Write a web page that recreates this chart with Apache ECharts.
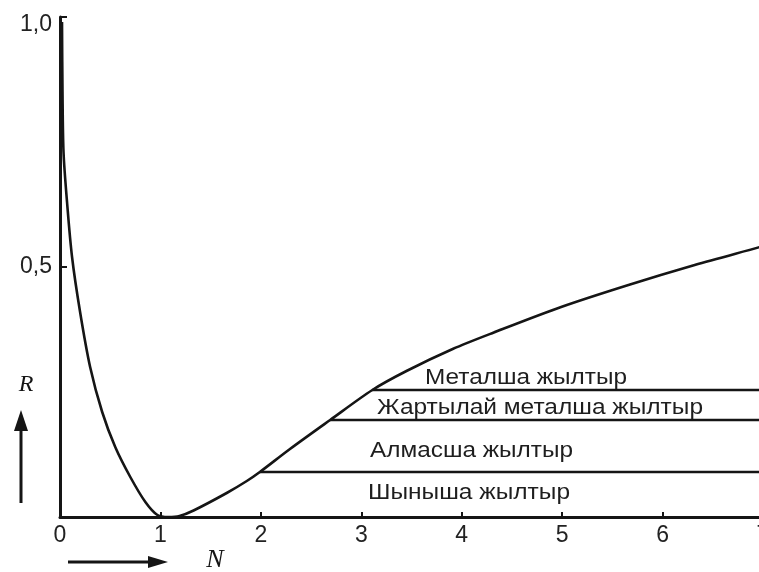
<!DOCTYPE html>
<html><head><meta charset="utf-8">
<script src="https://cdn.jsdelivr.net/npm/echarts@6/dist/echarts.min.js"></script>
<style>html,body{margin:0;padding:0;background:#fff}#c{width:759px;height:572px}</style>
</head><body><div id="c"></div>
<script>
// Reflectance curve R(N)
const curveN = [0.02, 0.025, 0.035, 0.07, 0.12, 0.20, 0.30, 0.42, 0.55, 0.70, 0.85, 0.97, 1.08, 1.19, 1.33, 1.66, 1.86, 1.99, 2.29, 2.69, 3.11, 3.45, 3.91, 4.32, 4.99, 5.66, 6.32, 6.97, 7.0];
const curveR = [0.99, 0.85, 0.73, 0.63, 0.52, 0.41, 0.30, 0.21, 0.14, 0.08, 0.03, 0.004, 0.0, 0.002, 0.013, 0.048, 0.072, 0.09, 0.136, 0.194, 0.254, 0.292, 0.336, 0.369, 0.42, 0.464, 0.504, 0.54, 0.542];
// Luster boundary lines
const boundaryR = [0.254, 0.194, 0.09];
const boundaryStartN = [3.11, 2.69, 1.99];
const boundaryEndN = 7;
// Luster zone names (top to bottom)
const lusterNames = ['Металша жылтыр', 'Жартылай металша жылтыр', 'Алмасша жылтыр', 'Шыныша жылтыр'];
// Axis
const xMin = 0, xMax = 7, xStep = 1;
const yMin = 0, yMax = 1, yStep = 0.5;
const yTickText = { '0.5': '0,5', '1': '1,0' };
const axisNames = ['N', 'R'];

const chart = echarts.init(document.getElementById('c'), null, { renderer: 'canvas' });

const ink = '#151515';
const series = [{
  type: 'line',
  data: curveN.map((n, i) => [n, curveR[i]]),
  symbol: 'none',
  smooth: 0.3,
  lineStyle: { color: ink, width: 2.6 },
  z: 3
}];
boundaryR.forEach((r, i) => {
  series.push({
    type: 'line',
    data: [[boundaryStartN[i], r], [boundaryEndN, r]],
    symbol: 'none',
    lineStyle: { color: ink, width: 2.6 },
    z: 2
  });
});

// label layout (pixel boxes): left, center y, target width
const labelBoxes = [
  [425, 378, 202],
  [377, 408, 326],
  [370, 451, 203],
  [368, 493, 202]
];
const labelFont = '22px "Liberation Sans", Arial, sans-serif';
const ctx = document.createElement('canvas').getContext('2d');
ctx.font = labelFont;

const graphics = lusterNames.map((t, i) => {
  const w = ctx.measureText(t).width;
  const b = labelBoxes[i];
  return {
    type: 'text', x: b[0], y: b[1], scaleX: b[2] / w, z: 10,
    style: { text: t, font: labelFont, fill: '#1e1e1e', align: 'left', verticalAlign: 'middle' }
  };
});
// axis names and arrows
graphics.push(
  { type: 'text', x: 26, y: 385, z: 10, style: { text: axisNames[1], font: 'italic 24px "Liberation Serif", serif', fill: ink, align: 'center', verticalAlign: 'middle' } },
  { type: 'text', x: 215, y: 560, z: 10, style: { text: axisNames[0], font: 'italic 26px "Liberation Serif", serif', fill: ink, align: 'center', verticalAlign: 'middle' } },
  { type: 'line', z: 10, shape: { x1: 21, y1: 503, x2: 21, y2: 425 }, style: { stroke: ink, lineWidth: 3 } },
  { type: 'polygon', z: 10, shape: { points: [[21, 410], [14, 431], [28, 431]] }, style: { fill: ink } },
  { type: 'line', z: 10, shape: { x1: 68, y1: 562, x2: 150, y2: 562 }, style: { stroke: ink, lineWidth: 3 } },
  { type: 'polygon', z: 10, shape: { points: [[168, 562], [148, 556], [148, 568]] }, style: { fill: ink } }
);

const axisFont = 'Liberation Sans, Arial, sans-serif';
chart.setOption({
  animation: false,
  backgroundColor: '#fff',
  grid: { left: 60, right: -4, top: 17, bottom: 55, outerBoundsMode: 'none', containLabel: false },
  xAxis: {
    type: 'value', min: xMin, max: xMax, interval: xStep,
    axisLine: { lineStyle: { color: ink, width: 3 } },
    axisTick: { inside: true, length: 5, lineStyle: { color: ink, width: 2 } },
    axisLabel: { color: '#222', fontSize: 23, fontFamily: axisFont, margin: 7, showMaxLabel: true, hideOverlap: false },
    splitLine: { show: false }
  },
  yAxis: {
    type: 'value', min: yMin, max: yMax, interval: yStep,
    axisLine: { show: true, lineStyle: { color: ink, width: 3 } },
    axisTick: { show: true, inside: true, length: 7, lineStyle: { color: ink, width: 2 } },
    axisLabel: {
      color: '#222', fontSize: 23, fontFamily: axisFont, margin: 8,
      formatter: v => { const t = yTickText[String(v)]; if (!t) return ''; return v === 1 ? '{top|' + t + '}' : t; },
      rich: { top: { fontSize: 23, color: '#222', fontFamily: axisFont, padding: [16, 0, 0, 0] } }
    },
    splitLine: { show: false }
  },
  series: series,
  graphic: graphics
});
</script></body></html>
